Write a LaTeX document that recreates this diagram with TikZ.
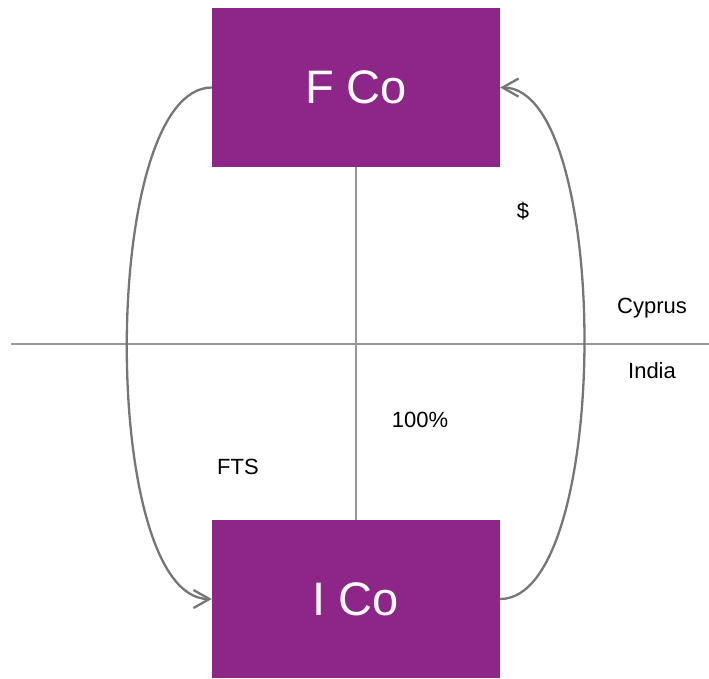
\documentclass[tikz,border=0pt]{standalone}
\usepackage{fontspec}
\setmainfont{Liberation Sans}
\usetikzlibrary{arrows.meta}
\definecolor{boxpurple}{RGB}{142,37,137}
\definecolor{curvegray}{RGB}{118,118,118}
\definecolor{axisgray}{RGB}{150,150,150}
\tikzset{
  cobox/.style={fill=boxpurple, draw=none, minimum width=288pt, minimum height=159pt, inner sep=0pt, text=white, font=\fontsize{47}{56}\selectfont},
  flow/.style={draw=curvegray, line width=2.3pt, -{Straight Barb[length=16pt,width=18pt,line width=2.3pt]}},
  axis/.style={draw=axisgray, line width=1.5pt},
  lbl/.style={font=\fontsize{22}{26}\selectfont, anchor=base, inner sep=0pt}
}
\begin{document}
\begin{tikzpicture}[x=1pt,y=1pt]
\useasboundingbox (0,0) rectangle (709,678);
\coordinate (hl) at (11,334);
\coordinate (hr) at (709,334);
\draw[axis] (hl) -- (hr);
\node[cobox] (fco) at (356,590.5) {F Co};
\node[cobox, minimum height=158pt] (ico) at (356,79) {I Co};
\draw[axis] (fco.south) -- (ico.north);
\draw[flow] (fco.west) .. controls (99,590) and (99,79) .. (ico.west);
\draw[flow] (ico.east) .. controls (612,79) and (612,590) .. (fco.east);
\node[lbl] (dollar) at (523,459) {\$};
\node[lbl] (cyprus) at (652,364) {Cyprus};
\node[lbl] (india) at (652,299) {India};
\node[lbl] (pct) at (420,251) {100\%};
\node[lbl] (fts) at (238,204) {FTS};
\end{tikzpicture}
\end{document}
